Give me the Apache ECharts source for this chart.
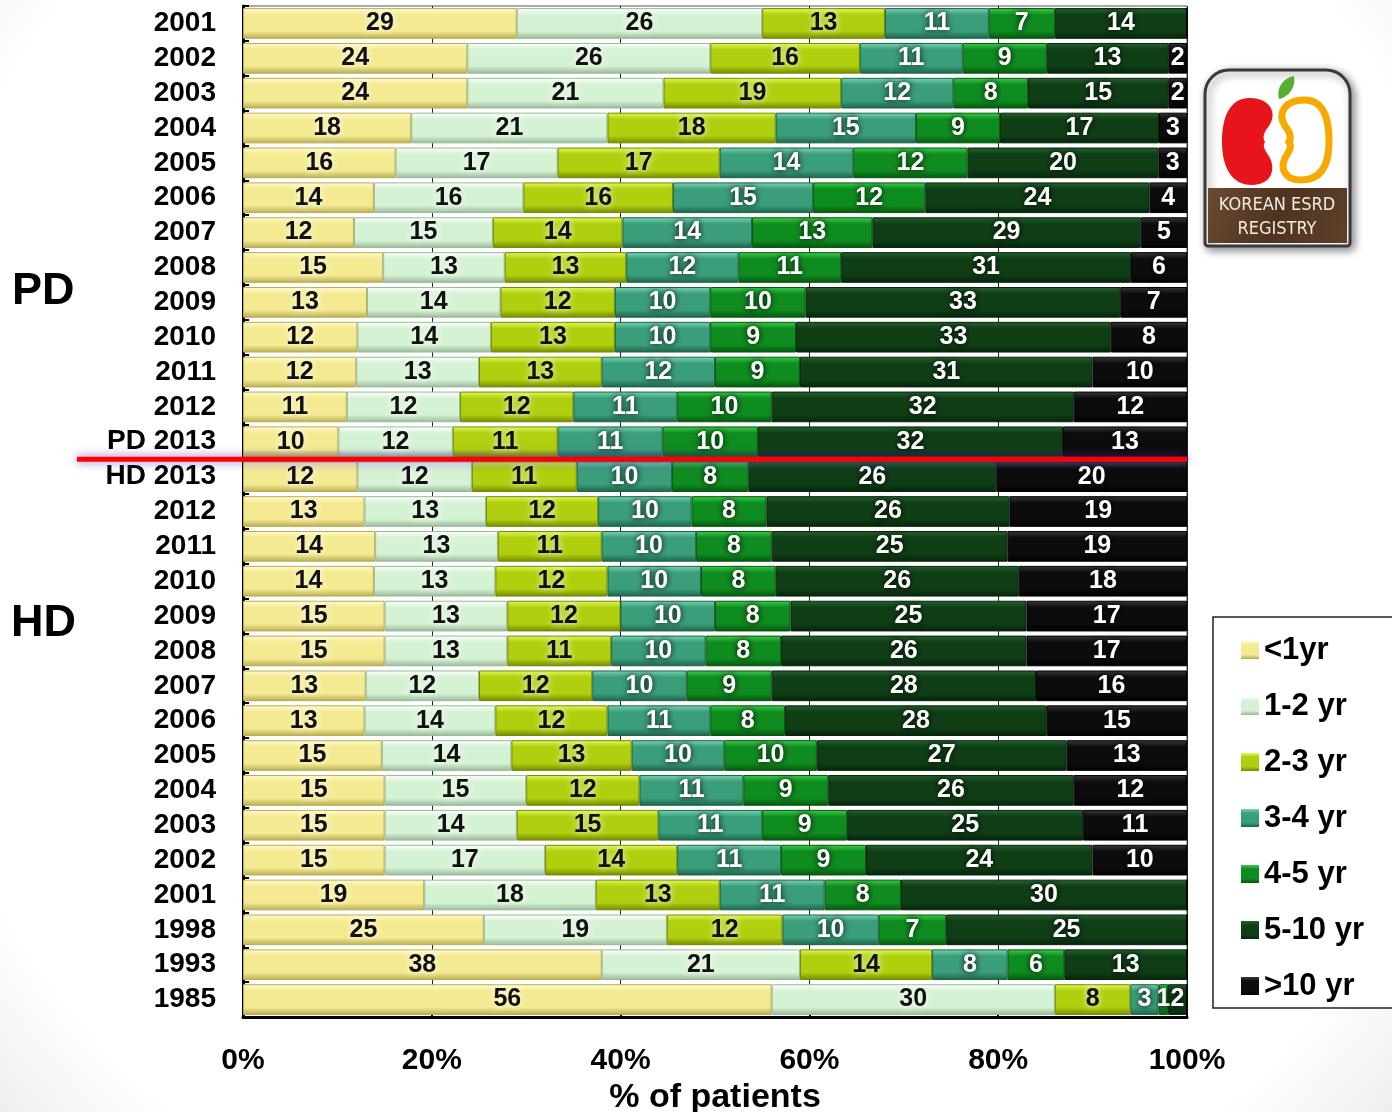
<!DOCTYPE html>
<html>
<head>
<meta charset="utf-8">
<script src="https://cdn.jsdelivr.net/npm/echarts@6/dist/echarts.min.js"></script>
<style>
html, body { margin: 0; padding: 0; background: #fff; }
#main { width: 1392px; height: 1112px; }
</style>
</head>
<body>
<div id="main"></div>
<script>
// row labels, top to bottom (PD block, then HD block)
var rowLabels = ['2001', '2002', '2003', '2004', '2005', '2006', '2007', '2008', '2009', '2010', '2011', '2012', 'PD 2013',
	'HD 2013', '2012', '2011', '2010', '2009', '2008', '2007', '2006', '2005', '2004', '2003', '2002', '2001', '1998', '1993', '1985'];
var seriesNames = ['<1yr', '1-2 yr', '2-3 yr', '3-4 yr', '4-5 yr', '5-10 yr', '>10 yr'];

// % of patients per duration group
var lt1 = [29, 24, 24, 18, 16, 14, 12, 15, 13, 12, 12, 11, 10, 12, 13, 14, 14, 15, 15, 13, 13, 15, 15, 15, 15, 19, 25, 38, 56];
var yr1to2 = [26, 26, 21, 21, 17, 16, 15, 13, 14, 14, 13, 12, 12, 12, 13, 13, 13, 13, 13, 12, 14, 14, 15, 14, 17, 18, 19, 21, 30];
var yr2to3 = [13, 16, 19, 18, 17, 16, 14, 13, 12, 13, 13, 12, 11, 11, 12, 11, 12, 12, 11, 12, 12, 13, 12, 15, 14, 13, 12, 14, 8];
var yr3to4 = [11, 11, 12, 15, 14, 15, 14, 12, 10, 10, 12, 11, 11, 10, 10, 10, 10, 10, 10, 10, 11, 10, 11, 11, 11, 11, 10, 8, 3];
var yr4to5 = [7, 9, 8, 9, 12, 12, 13, 11, 10, 9, 9, 10, 10, 8, 8, 8, 8, 8, 8, 9, 8, 10, 9, 9, 9, 8, 7, 6, 1];
var yr5to10 = [14, 13, 15, 17, 20, 24, 29, 31, 33, 33, 31, 32, 32, 26, 26, 25, 26, 25, 26, 28, 28, 27, 26, 25, 24, 30, 25, 13, 2];
var gt10 = [0, 2, 2, 3, 3, 4, 5, 6, 7, 8, 10, 12, 13, 20, 19, 19, 18, 17, 17, 16, 15, 13, 12, 11, 10, 0, 0, 0, 0];
var xTicks = [0, 20, 40, 60, 80, 100];

var allValues = [lt1, yr1to2, yr2to3, yr3to4, yr4to5, yr5to10, gt10];

// bevel colours: [top, body, bottom]
var shades = [
	['#fffbd2', '#f4ea92', '#b9ac50'],
	['#ffffff', '#d6f2d4', '#98b898'],
	['#e4f85a', '#b0cf0e', '#728a00'],
	['#7ad8b2', '#3b9e7a', '#1b6446'],
	['#3cd04c', '#0f8c1f', '#04560d'],
	['#25642e', '#0f3e16', '#05240a'],
	['#3a3a3a', '#0c0c0c', '#000000']
];
var darkText = [true, true, true, false, false, false, false];

// logo shapes
echarts.graphic.registerShape('logoBean', echarts.graphic.extendPath(
	'M45 28 C22 28 17 52 17 72 C17 96 26 115 47 115 C65 115 71 101 65 88 C60 80 57 76 60 72 C57 67 59 62 64 56 C73 43 65 28 45 28 Z', {}));
echarts.graphic.registerShape('logoRing', echarts.graphic.extendPath(
	'M99 30 C122 30 124 55 124 72 C124 94 117 110 96 110 C80 110 75 99 80 88 C85 80 87 76 84 72 C87 67 85 62 80 56 C72 43 80 30 99 30 Z', {}));
echarts.graphic.registerShape('logoLeaf', echarts.graphic.extendPath(
	'M74 29 C71 18 78 8 89 6 C91 17 84 27 74 29 Z', {}));

var myChart = echarts.init(document.getElementById('main'));

function bevel(s) {
	return {
		type: 'linear', x: 0, y: 0, x2: 0, y2: 1,
		colorStops: [
			{ offset: 0, color: s[0] },
			{ offset: 0.22, color: s[1] },
			{ offset: 0.75, color: s[1] },
			{ offset: 1, color: s[2] }
		]
	};
}

var totals = rowLabels.map(function(l, i) {
	var t = 0;
	allValues.forEach(function(arr) { t += arr[i]; });
	return t;
});

var series = seriesNames.map(function(name, k) {
	return {
		name: name,
		type: 'bar',
		stack: 'all',
		barCategoryGap: '12%',
		data: allValues[k].map(function(v, i) {
			return { value: v * 100 / totals[i], raw: v };
		}),
		itemStyle: {
			color: bevel(shades[k]),
			borderColor: shades[k][2],
			borderWidth: 1
		},
		label: {
			show: true,
			position: 'inside',
			formatter: function(p) { return p.data.raw ? String(p.data.raw) : ''; },
			color: darkText[k] ? '#111' : '#fff',
			fontFamily: 'Liberation Sans, Arial, sans-serif',
			fontWeight: 'bold',
			fontSize: 25,
			textShadowColor: darkText[k] ? 'rgba(255,255,255,0.95)' : '#000',
			textShadowBlur: 6
		}
	};
});

var option = {
	backgroundColor: {
		type: 'radial', x: 0.5, y: 0.45, r: 0.85,
		colorStops: [{ offset: 0, color: '#ffffff' }, { offset: 0.85, color: '#ffffff' }, { offset: 1, color: '#ececec' }]
	},
	animation: false,
	textStyle: { fontFamily: 'Liberation Sans, Arial, sans-serif' },
	grid: {
		left: 243, right: 205, top: 6, bottom: 95,
		outerBoundsMode: 'none',
		containLabel: false,
		show: true, borderColor: '#555', borderWidth: 1
	},
	legend: {
		orient: 'vertical',
		left: 1236,
		top: 628,
		itemWidth: 18,
		itemHeight: 18,
		itemGap: 22,
		icon: 'rect',
		data: seriesNames,
		itemStyle: { borderWidth: 0 },
		textStyle: {
			fontSize: 31,
			fontWeight: 'bold',
			color: '#000',
			lineHeight: 34,
			fontFamily: 'Liberation Sans, Arial, sans-serif'
		}
	},
	xAxis: {
		type: 'value',
		min: 0,
		max: 100,
		interval: 20,
		name: '% of patients',
		nameLocation: 'middle',
		nameGap: 60,
		nameTextStyle: {
			fontSize: 34,
			fontWeight: 'bold',
			color: '#000'
		},
		axisLine: { show: true, lineStyle: { color: '#000', width: 3 } },
		axisTick: { show: true, inside: true, length: 6, lineStyle: { color: '#000', width: 2 } },
		splitLine: { show: true, lineStyle: { color: '#222', width: 1 } },
		axisLabel: {
			margin: 29,
			fontSize: 30,
			fontWeight: 'bold',
			color: '#000',
			formatter: function(v) { return xTicks.indexOf(v) >= 0 ? v + '%' : ''; }
		}
	},
	yAxis: {
		type: 'category',
		inverse: true,
		data: rowLabels,
		axisLine: { show: true, lineStyle: { color: '#000', width: 3 } },
		axisTick: { show: true, inside: true, length: 6, lineStyle: { color: '#000', width: 2 } },
		axisLabel: {
			interval: 0,
			margin: 27,
			fontSize: 28,
			fontWeight: 'bold',
			color: '#000'
		}
	},
	series: series
};

myChart.setOption(option);

// divider between PD and HD rows, group labels, legend frame, logo
var yPd = myChart.convertToPixel({ yAxisIndex: 0 }, 12);
var yHd = myChart.convertToPixel({ yAxisIndex: 0 }, 13);
var yMid = (yPd + yHd) / 2;
var yPdBlock = myChart.convertToPixel({ yAxisIndex: 0 }, 7) + 24;
var yHdBlock = myChart.convertToPixel({ yAxisIndex: 0 }, 17) + 8;
var xEnd = myChart.convertToPixel({ xAxisIndex: 0 }, 100);

myChart.setOption({
	graphic: [
		{
			type: 'line', z: 100,
			shape: { x1: 77, y1: yMid, x2: xEnd, y2: yMid },
			style: { stroke: '#ff0000', lineWidth: 5, shadowBlur: 10, shadowColor: 'rgba(90,60,200,0.8)' }
		},
		{
			type: 'text', x: 12, y: yPdBlock,
			style: { text: 'PD', fontSize: 45, fontWeight: 'bold', fill: '#000', verticalAlign: 'middle', fontFamily: 'Liberation Sans, Arial, sans-serif' }
		},
		{
			type: 'text', x: 11, y: yHdBlock,
			style: { text: 'HD', fontSize: 45, fontWeight: 'bold', fill: '#000', verticalAlign: 'middle', fontFamily: 'Liberation Sans, Arial, sans-serif' }
		},
		{
			type: 'rect', z: -1,
			shape: { x: 1213, y: 617, width: 200, height: 391 },
			style: { fill: '#fff', stroke: '#222', lineWidth: 1.5 }
		},
		{
			type: 'group', x: 1205, y: 70,
			children: [
				{
					type: 'rect',
					shape: { x: 0, y: 0, width: 145, height: 176, r: [24, 24, 3, 3] },
					style: { fill: '#fff', stroke: '#3a3a3a', lineWidth: 3, shadowBlur: 8, shadowColor: 'rgba(0,0,0,0.45)', shadowOffsetX: 3, shadowOffsetY: 3 }
				},
				{
					type: 'rect',
					shape: { x: 3, y: 118, width: 139, height: 55 },
					style: {
						fill: {
							type: 'linear', x: 0, y: 0, x2: 1, y2: 1,
							colorStops: [{ offset: 0, color: '#6b4a30' }, { offset: 0.5, color: '#4e3320' }, { offset: 1, color: '#5e412a' }]
						}
					}
				},
				{ type: 'logoBean', style: { fill: '#e8141b' } },
				{ type: 'logoRing', style: { fill: 'none', stroke: '#f7a900', lineWidth: 7 } },
				{ type: 'logoLeaf', style: { fill: '#58ae32' } },
				{
					type: 'text', x: 72, y: 135,
					style: { text: 'KOREAN ESRD', align: 'center', verticalAlign: 'middle', fontSize: 18, fill: '#f2ece2', fontFamily: 'DejaVu Sans Condensed, Liberation Sans, sans-serif' }
				},
				{
					type: 'text', x: 72, y: 159,
					style: { text: 'REGISTRY', align: 'center', verticalAlign: 'middle', fontSize: 18, fill: '#f2ece2', fontFamily: 'DejaVu Sans Condensed, Liberation Sans, sans-serif' }
				}
			]
		}
	]
});
</script>
</body>
</html>
